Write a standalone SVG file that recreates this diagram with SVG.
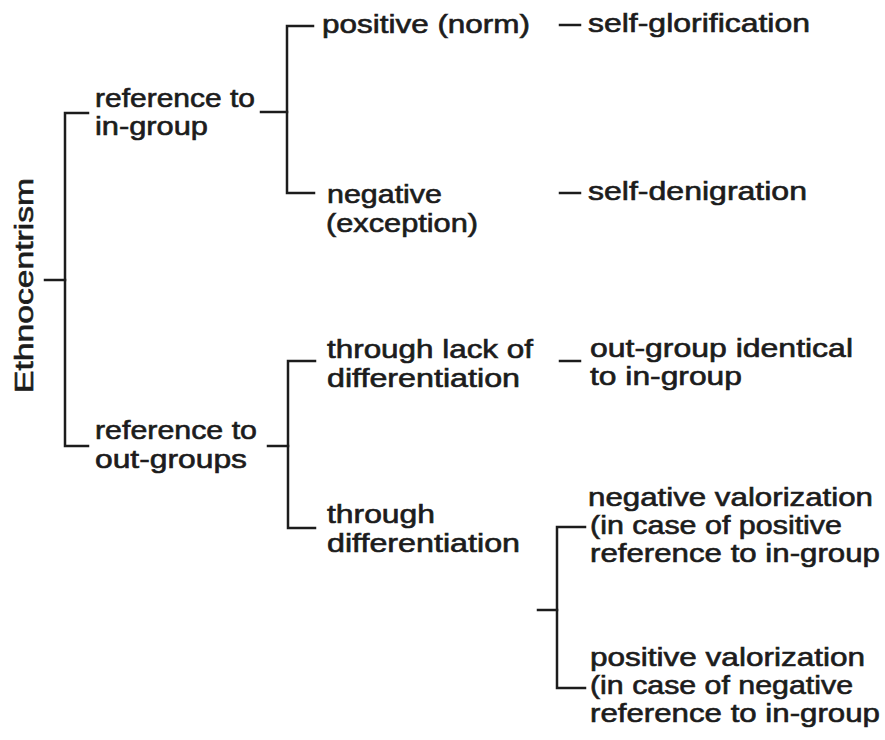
<svg xmlns="http://www.w3.org/2000/svg" width="885" height="740" viewBox="0 0 885 740">
<style>
text{font-family:"Liberation Sans",Arial,sans-serif;font-size:25px;fill:#1c1c1c;stroke:#1c1c1c;stroke-width:0.6}
.c{fill:none;stroke:#1c1c1c;stroke-width:2.5;stroke-linecap:square}
</style>
<rect width="885" height="740" fill="#ffffff"/>
<g id="connectors">
<path class="c" d="M88,113 H65 V446 H88"/>
<path class="c" d="M45,280 H65"/>
<path class="c" d="M261,112 H287"/>
<path class="c" d="M313,26 H287 V193 H314"/>
<path class="c" d="M268,446 H288"/>
<path class="c" d="M315,361 H288 V528 H315"/>
<path class="c" d="M585,527 H557 V688 H585"/>
<path class="c" d="M538,610 H557"/>
<path class="c" d="M560,25 H580"/>
<path class="c" d="M560,193 H580"/>
<path class="c" d="M560,361 H580"/>
</g>
<g id="ethnocentrism"><text transform="translate(33,393) rotate(-90)" textLength="215" lengthAdjust="spacingAndGlyphs">Ethnocentrism</text></g>
<g id="ref-in">
<text x="95" y="107" textLength="160" lengthAdjust="spacingAndGlyphs">reference to</text>
<text x="95" y="135" textLength="113" lengthAdjust="spacingAndGlyphs">in-group</text>
</g>
<g id="ref-out">
<text x="95" y="439" textLength="162" lengthAdjust="spacingAndGlyphs">reference to</text>
<text x="95" y="468" textLength="152" lengthAdjust="spacingAndGlyphs">out-groups</text>
</g>
<g id="positive"><text x="322" y="33" textLength="208" lengthAdjust="spacingAndGlyphs">positive (norm)</text></g>
<g id="negative">
<text x="327" y="203" textLength="115" lengthAdjust="spacingAndGlyphs">negative</text>
<text x="326" y="232" textLength="152" lengthAdjust="spacingAndGlyphs">(exception)</text>
</g>
<g id="lack">
<text x="327" y="358" textLength="206" lengthAdjust="spacingAndGlyphs">through lack of</text>
<text x="327" y="387" textLength="193" lengthAdjust="spacingAndGlyphs">differentiation</text>
</g>
<g id="through">
<text x="327" y="523" textLength="108" lengthAdjust="spacingAndGlyphs">through</text>
<text x="327" y="552" textLength="193" lengthAdjust="spacingAndGlyphs">differentiation</text>
</g>
<g id="glorification"><text x="588" y="32" textLength="222" lengthAdjust="spacingAndGlyphs">self-glorification</text></g>
<g id="denigration"><text x="588" y="200" textLength="219" lengthAdjust="spacingAndGlyphs">self-denigration</text></g>
<g id="identical">
<text x="590" y="357" textLength="263" lengthAdjust="spacingAndGlyphs">out-group identical</text>
<text x="590" y="385" textLength="152" lengthAdjust="spacingAndGlyphs">to in-group</text>
</g>
<g id="neg-val">
<text x="588" y="506" textLength="285" lengthAdjust="spacingAndGlyphs">negative valorization</text>
<text x="590" y="534" textLength="252" lengthAdjust="spacingAndGlyphs">(in case of positive</text>
<text x="590" y="562" textLength="290" lengthAdjust="spacingAndGlyphs">reference to in-group</text>
</g>
<g id="pos-val">
<text x="590" y="666" textLength="275" lengthAdjust="spacingAndGlyphs">positive valorization</text>
<text x="590" y="694" textLength="263" lengthAdjust="spacingAndGlyphs">(in case of negative</text>
<text x="590" y="722" textLength="290" lengthAdjust="spacingAndGlyphs">reference to in-group</text>
</g>
</svg>
